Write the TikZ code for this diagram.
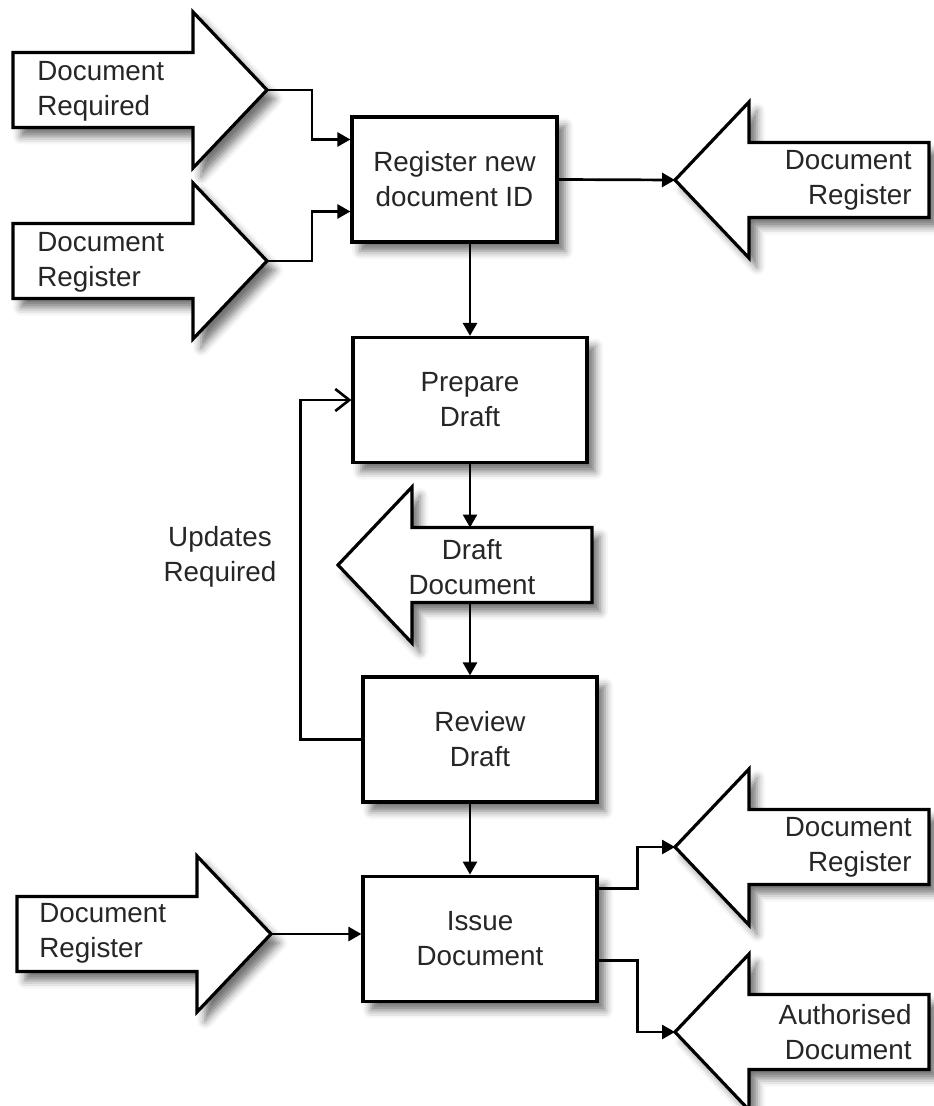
\documentclass[tikz,border=0pt]{standalone}
\usepackage{fontspec}
\setmainfont{Liberation Sans}
\usetikzlibrary{positioning, arrows.meta, shadows.blur}
\tikzset{
softshadow/.style={blur shadow={shadow xshift=4pt, shadow yshift=-4.5pt, shadow blur radius=4pt, shadow opacity=55}},
process/.style={draw, line width=1.6pt, fill=white, text=black!85, minimum width=117pt, minimum height=62.5pt, align=center, inner sep=0, softshadow},
arrowbody/.style={draw, line width=1.6pt, fill=white, line join=miter, softshadow},
lbl/.style={inner sep=0, align=left, text=black!85},
flow/.style={line width=1.35pt, -{Triangle[length=6.5pt, width=7pt]}},
back/.style={line width=1.35pt, -{Straight Barb[length=7pt, width=11pt, line width=1.3pt]}},
bigarrow/.pic={
  \path [arrowbody] (0,0) -- (-74,-78) -- (-74,-37.5) -- (-254,-37.5) -- (-254,37.5) -- (-74,37.5) -- (-74,78) -- cycle;
  \coordinate (-tip) at (0,0);
  \coordinate (-top) at (-130,-37.5);
  \coordinate (-bot) at (-130,37.5);
}}

\begin{document}
\begin{tikzpicture}[x=0.5pt, y=-0.5pt, font=\fontsize{13.9}{17.5}\selectfont]
\useasboundingbox (0,0) rectangle (933,1106);

% inputs on the left
\pic (dreq) at (267,90) {bigarrow};
\pic (dreg1) at (267,261) {bigarrow};
\pic (dreg3) at (271,934) {bigarrow};
\node [lbl, anchor=west] (t-dreq) at (37,91) {Document\\Required};
\node [lbl, anchor=west] (t-dreg1) at (37,262) {Document\\Register};
\node [lbl, anchor=west] (t-dreg3) at (39,933) {Document\\Register};

% outputs on the right
\foreach \y/\name/\txt in {180/oreg1/{Document\\Register}, 847/oreg2/{Document\\Register}, 1032/auth/{Authorised\\Document}}{
  \pic [xscale=-1] (\name) at (675,\y) {bigarrow};
  \node [lbl, align=right, anchor=east] (t-\name) at (912,\y) {\txt};
}
\pic [xscale=-1] (ddoc) at (338,565) {bigarrow};
\node [lbl, align=center] (t-ddoc) at (472,567) {Draft\\Document};

% process steps
\node [process, minimum width=102.5pt] (reg) at (454.5,179.5) {Register new\\document ID};
\node [process] (prep) at (470,400) {Prepare\\Draft};
\node [process] (rev) at (480,739.5) {Review\\Draft};
\node [process, below=35.5pt of rev] (iss) {Issue\\Document};
\node [lbl, align=center] (upd) at (220,557) {Updates\\Required};

\draw [flow] (dreq-tip) -- ++(45,0) |- ([yshift=20pt]reg.west);
\draw [flow] (dreg1-tip) -- ++(45,0) |- ([yshift=-16pt]reg.west);
\draw [flow] (reg.east) -- (oreg1-tip);
\draw [flow] (reg.south -| prep.north) -- (prep.north);
\draw [flow] (prep.south) -- (prep.south |- ddoc-top);
\draw [flow] (prep.south |- ddoc-bot) -- (prep.south |- rev.north);
\draw [flow] (prep.south |- rev.south) -- (prep.south |- iss.north);
\draw [back] (rev.west) -- ++(-61,0) |- (prep.west);
\draw [flow] (dreg3-tip) -- (dreg3-tip -| iss.west);
\draw [flow] ([yshift=25pt]iss.east) -- ++(39,0) |- (oreg2-tip);
\draw [flow] ([yshift=-11pt]iss.east) -- ++(39,0) |- (auth-tip);
\end{tikzpicture}
\end{document}
